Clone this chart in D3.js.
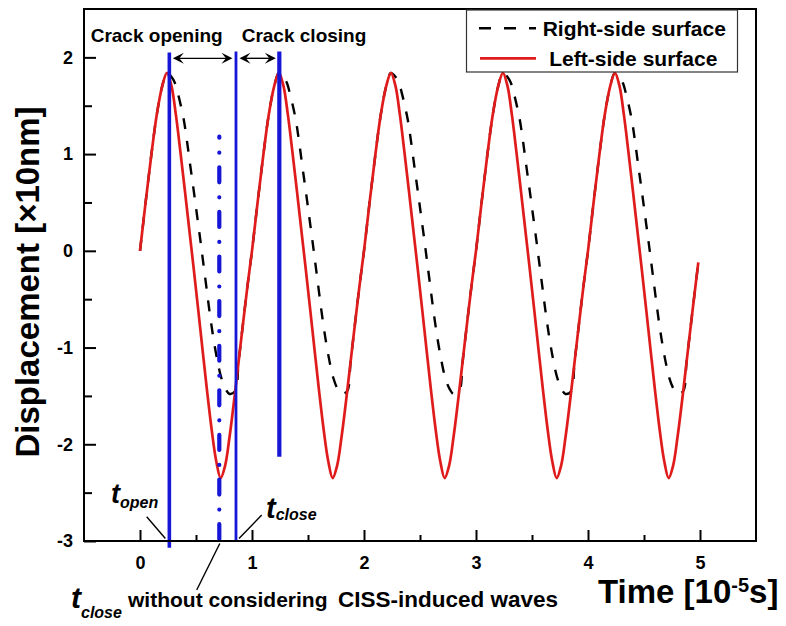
<!DOCTYPE html>
<html>
<head>
<meta charset="utf-8">
<script src="https://cdn.jsdelivr.net/npm/d3@7"></script>
<style>
  html, body { margin: 0; padding: 0; background: #fff; }
  svg { display: block; font-family: "Liberation Sans", Arial, Helvetica, sans-serif; font-weight: bold; }
</style>
</head>
<body>
<svg id="chart" width="786" height="626"></svg>
<script>
// ---------- data (time in 1e-5 s, displacement in 10 nm) ----------
const timeLeft = [
  0.00, 0.05, 0.10, 0.15, 0.20, 0.24, 0.28, 0.32, 0.36, 0.40, 0.44, 0.48, 0.52, 0.56, 0.60, 0.64, 0.68, 0.72, 0.76, 0.80, 0.84, 0.88, 0.92, 0.96,
  1.00, 1.05, 1.10, 1.15, 1.20, 1.24, 1.28, 1.32, 1.36, 1.40, 1.44, 1.48, 1.52, 1.56, 1.60, 1.64, 1.68, 1.72, 1.76, 1.80, 1.84, 1.88, 1.92, 1.96,
  2.00, 2.05, 2.10, 2.15, 2.20, 2.24, 2.28, 2.32, 2.36, 2.40, 2.44, 2.48, 2.52, 2.56, 2.60, 2.64, 2.68, 2.72, 2.76, 2.80, 2.84, 2.88, 2.92, 2.96,
  3.00, 3.05, 3.10, 3.15, 3.20, 3.24, 3.28, 3.32, 3.36, 3.40, 3.44, 3.48, 3.52, 3.56, 3.60, 3.64, 3.68, 3.72, 3.76, 3.80, 3.84, 3.88, 3.92, 3.96,
  4.00, 4.05, 4.10, 4.15, 4.20, 4.24, 4.28, 4.32, 4.36, 4.40, 4.44, 4.48, 4.52, 4.56, 4.60, 4.64, 4.68, 4.72, 4.76, 4.80, 4.84, 4.88, 4.92, 4.96,
  4.985
];
const leftSide = [
  0.00, 0.50, 0.98, 1.41, 1.71, 1.84, 1.71, 1.41, 1.03, 0.63, 0.22, -0.19, -0.61, -1.04, -1.46, -1.85, -2.17, -2.35, -2.22, -1.92, -1.55, -1.15, -0.75, -0.36,
  0.00, 0.50, 0.98, 1.41, 1.71, 1.84, 1.71, 1.41, 1.03, 0.63, 0.22, -0.19, -0.61, -1.04, -1.46, -1.85, -2.17, -2.35, -2.22, -1.92, -1.55, -1.15, -0.75, -0.36,
  0.00, 0.50, 0.98, 1.41, 1.71, 1.84, 1.71, 1.41, 1.03, 0.63, 0.22, -0.19, -0.61, -1.04, -1.46, -1.85, -2.17, -2.35, -2.22, -1.92, -1.55, -1.15, -0.75, -0.36,
  0.00, 0.50, 0.98, 1.41, 1.71, 1.84, 1.71, 1.41, 1.03, 0.63, 0.22, -0.19, -0.61, -1.04, -1.46, -1.85, -2.17, -2.35, -2.22, -1.92, -1.55, -1.15, -0.75, -0.36,
  0.00, 0.50, 0.98, 1.41, 1.71, 1.84, 1.71, 1.41, 1.03, 0.63, 0.22, -0.19, -0.61, -1.04, -1.46, -1.85, -2.17, -2.35, -2.22, -1.92, -1.55, -1.15, -0.75, -0.36,
  -0.12
];
const timeRight = [
  0.00, 0.05, 0.10, 0.15, 0.20, 0.24, 0.28, 0.31, 0.34, 0.39, 0.42, 0.45, 0.48, 0.51, 0.54, 0.56, 0.59, 0.62, 0.655, 0.69, 0.725, 0.765, 0.80, 0.85, 0.88, 0.92, 0.96,
  1.00, 1.05, 1.10, 1.15, 1.20, 1.24, 1.28, 1.31, 1.34, 1.39, 1.42, 1.45, 1.48, 1.51, 1.54, 1.56, 1.59, 1.62, 1.655, 1.69, 1.725, 1.765, 1.80, 1.85, 1.88, 1.92, 1.96,
  2.00, 2.05, 2.10, 2.15, 2.20, 2.24, 2.28, 2.31, 2.34, 2.39, 2.42, 2.45, 2.48, 2.51, 2.54, 2.56, 2.59, 2.62, 2.655, 2.69, 2.725, 2.765, 2.80, 2.85, 2.88, 2.92, 2.96,
  3.00, 3.05, 3.10, 3.15, 3.20, 3.24, 3.28, 3.31, 3.34, 3.39, 3.42, 3.45, 3.48, 3.51, 3.54, 3.56, 3.59, 3.62, 3.655, 3.69, 3.725, 3.765, 3.80, 3.85, 3.88, 3.92, 3.96,
  4.00, 4.05, 4.10, 4.15, 4.20, 4.24, 4.28, 4.31, 4.34, 4.39, 4.42, 4.45, 4.48, 4.51, 4.54, 4.56, 4.59, 4.62, 4.655, 4.69, 4.725, 4.765, 4.80, 4.85, 4.88, 4.92, 4.96,
  4.985
];
const rightSide = [
  0.00, 0.50, 0.98, 1.41, 1.71, 1.84, 1.80, 1.74, 1.62, 1.36, 1.13, 0.87, 0.62, 0.36, 0.10, -0.08, -0.35, -0.62, -0.90, -1.13, -1.31, -1.43, -1.48, -1.45, -1.15, -0.75, -0.36,
  0.00, 0.50, 0.98, 1.41, 1.71, 1.84, 1.80, 1.74, 1.62, 1.36, 1.13, 0.87, 0.62, 0.36, 0.10, -0.08, -0.35, -0.62, -0.90, -1.13, -1.31, -1.43, -1.48, -1.45, -1.15, -0.75, -0.36,
  0.00, 0.50, 0.98, 1.41, 1.71, 1.84, 1.80, 1.74, 1.62, 1.36, 1.13, 0.87, 0.62, 0.36, 0.10, -0.08, -0.35, -0.62, -0.90, -1.13, -1.31, -1.43, -1.48, -1.45, -1.15, -0.75, -0.36,
  0.00, 0.50, 0.98, 1.41, 1.71, 1.84, 1.80, 1.74, 1.62, 1.36, 1.13, 0.87, 0.62, 0.36, 0.10, -0.08, -0.35, -0.62, -0.90, -1.13, -1.31, -1.43, -1.48, -1.45, -1.15, -0.75, -0.36,
  0.00, 0.50, 0.98, 1.41, 1.71, 1.84, 1.80, 1.74, 1.62, 1.36, 1.13, 0.87, 0.62, 0.36, 0.10, -0.08, -0.35, -0.62, -0.90, -1.13, -1.31, -1.43, -1.48, -1.45, -1.15, -0.75, -0.36,
  -0.12
];

const xTicks = [0, 1, 2, 3, 4, 5];
const xMinorTicks = [0.5, 1.5, 2.5, 3.5, 4.5];
const yTicks = [-3, -2, -1, 0, 1, 2];
const yMinorTicks = [-2.5, -1.5, -0.5, 0.5, 1.5];

// vertical time markers: t_open, t_close (no CISS waves), t_close, next peak
const markerTimes = [0.262, 0.708, 0.857, 1.244];
const markerTop = [2.05, 1.18, 2.06, 2.06];
const markerBottom = [-3.07, -3.05, -3.0, -2.13];
const arrowLevel = 1.99;

const legendLabels = ["Right-side surface", "Left-side surface"];

// ---------- layout ----------
const W = 786, H = 626;
const RED = "#e01b1b", BLUE = "#1616d6";
const x = d3.scaleLinear().domain([-0.5, 5.5]).range([84, 756]);
const y = d3.scaleLinear().domain([-3, 2.5]).range([541, 9]);

const svg = d3.select("#chart");
svg.append("rect").attr("width", W).attr("height", H).attr("fill", "#fff");

const line = d3.line()
  .x(d => x(d[0]))
  .y(d => y(d[1]))
  .curve(d3.curveCatmullRom.alpha(0.5));

// right-side surface (dashed) underneath, left-side surface (solid red) above
svg.append("path")
  .datum(d3.zip(timeRight, rightSide))
  .attr("d", line)
  .attr("fill", "none")
  .attr("stroke", "#000")
  .attr("stroke-width", 2.4)
  .attr("stroke-dasharray", "11,12");

svg.append("path")
  .datum(d3.zip(timeLeft, leftSide))
  .attr("d", line)
  .attr("fill", "none")
  .attr("stroke", RED)
  .attr("stroke-width", 2.7);

// ---------- time markers ----------
const markerWidth = [3.6, 4.2, 2.8, 4.2];
markerTimes.forEach((t, i) => {
  const ln = svg.append("line")
    .attr("x1", x(t)).attr("x2", x(t))
    .attr("y1", y(markerTop[i])).attr("y2", y(markerBottom[i]))
    .attr("stroke", BLUE)
    .attr("stroke-width", markerWidth[i]);
  if (i === 1) {
    ln.attr("stroke-dasharray", "15,15,0.01,14.6")
      .attr("stroke-dashoffset", 14)
      .attr("stroke-linecap", "round");
  }
});

// double arrows between markers
function arrowHead(px, py, dir) {
  const L = 11, hw = 5.5, notch = 6.5;
  return `M${px},${py} L${px - dir * L},${py - hw} L${px - dir * notch},${py} L${px - dir * L},${py + hw} Z`;
}
function doubleArrow(t0, t1) {
  const x0 = x(t0) + 3.5, x1 = x(t1) - 3.5, yy = y(arrowLevel);
  svg.append("line").attr("x1", x0 + 4).attr("x2", x1 - 4)
    .attr("y1", yy).attr("y2", yy)
    .attr("stroke", "#000").attr("stroke-width", 1.4);
  svg.append("path").attr("d", arrowHead(x0, yy, -1)).attr("fill", "#000");
  svg.append("path").attr("d", arrowHead(x1, yy, 1)).attr("fill", "#000");
}
doubleArrow(markerTimes[0], markerTimes[2]);
doubleArrow(markerTimes[2], markerTimes[3]);

svg.append("text").attr("x", 90.7).attr("y", 41.8)
  .attr("font-size", 19).text("Crack opening");
svg.append("text").attr("x", 241.7).attr("y", 41.8)
  .attr("font-size", 19).text("Crack closing");

// ---------- axes ----------
const gx = svg.append("g").attr("transform", `translate(0,${y(-3)})`);
gx.call(d3.axisBottom(x).tickValues(xTicks).tickFormat(d3.format("d"))
  .tickSizeInner(-11).tickSizeOuter(0).tickPadding(15));
const gxm = svg.append("g").attr("transform", `translate(0,${y(-3)})`);
gxm.call(d3.axisBottom(x).tickValues(xMinorTicks).tickFormat("")
  .tickSizeInner(-6).tickSizeOuter(0));

const gy = svg.append("g").attr("transform", `translate(${x(-0.5)},0)`);
gy.call(d3.axisLeft(y).tickValues(yTicks).tickFormat(d => String(d))
  .tickSizeInner(-12).tickSizeOuter(0).tickPadding(11));
const gym = svg.append("g").attr("transform", `translate(${x(-0.5)},0)`);
gym.call(d3.axisLeft(y).tickValues(yMinorTicks).tickFormat("")
  .tickSizeInner(-8).tickSizeOuter(0));

svg.selectAll(".domain").remove();
svg.selectAll(".tick line").attr("stroke", "#000").attr("stroke-width", 2);
svg.selectAll(".tick text")
  .attr("font-family", "Liberation Sans, Arial, sans-serif")
  .attr("font-weight", "bold")
  .attr("font-size", 18)
  .attr("fill", "#000");

// frame
svg.append("rect")
  .attr("x", x(-0.5)).attr("y", y(2.5))
  .attr("width", x(5.5) - x(-0.5)).attr("height", y(-3) - y(2.5))
  .attr("fill", "none").attr("stroke", "#000").attr("stroke-width", 2);

// axis titles
svg.append("text")
  .attr("transform", "translate(39,282) rotate(-90)")
  .attr("text-anchor", "middle")
  .attr("font-size", 33)
  .text("Displacement [\u00d710nm]");

const xt = svg.append("text").attr("x", 598).attr("y", 603).attr("font-size", 33);
xt.append("tspan").text("Time [10");
xt.append("tspan").attr("font-size", 20).attr("dy", -11).text("-5");
xt.append("tspan").attr("dy", 11).text("s]");

// ---------- legend ----------
const lg = svg.append("g");
lg.append("rect").attr("x", 466.5).attr("y", 10).attr("width", 271).attr("height", 62)
  .attr("fill", "#fff").attr("stroke", "#333").attr("stroke-width", 1.2);
lg.append("line").attr("x1", 479).attr("x2", 536).attr("y1", 28.3).attr("y2", 28.3)
  .attr("stroke", "#000").attr("stroke-width", 2.4).attr("stroke-dasharray", "12,13");
lg.append("text").attr("x", 542.7).attr("y", 35.5).attr("font-size", 21).text(legendLabels[0]);
lg.append("line").attr("x1", 480).attr("x2", 536).attr("y1", 58.3).attr("y2", 58.3)
  .attr("stroke", RED).attr("stroke-width", 2.7);
lg.append("text").attr("x", 549.3).attr("y", 66).attr("font-size", 21).text(legendLabels[1]);

// ---------- marker annotations ----------
const ann = svg.append("g").attr("fill", "#000");
const baseY = y(-3);

// t_open
const tOpen = ann.append("text").attr("x", 111).attr("y", 503).attr("font-style", "italic");
tOpen.append("tspan").attr("font-size", 27).text("t");
tOpen.append("tspan").attr("font-size", 16).attr("dy", 5).text("open");
ann.append("line")
  .attr("x1", 146.7).attr("y1", 516.7)
  .attr("x2", x(markerTimes[0]) - 4).attr("y2", baseY - 2.5)
  .attr("stroke", "#000").attr("stroke-width", 1.4);

// t_close
const tClose = ann.append("text").attr("x", 266).attr("y", 518).attr("font-style", "italic");
tClose.append("tspan").attr("font-size", 29).text("t");
tClose.append("tspan").attr("font-size", 16).attr("dy", 2).text("close");
ann.append("line")
  .attr("x1", x(markerTimes[2]) + 3).attr("y1", baseY - 2.5)
  .attr("x2", 261.7).attr("y2", 515)
  .attr("stroke", "#000").attr("stroke-width", 1.4);

// t_close without considering CISS-induced waves
ann.append("line")
  .attr("x1", x(markerTimes[1]) + 0.5).attr("y1", baseY + 2.5)
  .attr("x2", 196.7).attr("y2", 590)
  .attr("stroke", "#000").attr("stroke-width", 1.4);
const tNo = ann.append("text").attr("x", 71).attr("y", 608).attr("font-style", "italic");
tNo.append("tspan").attr("font-size", 30).text("t");
tNo.append("tspan").attr("font-size", 16).attr("dy", 10).text("close");
ann.append("text").attr("x", 128).attr("y", 607).attr("font-size", 21).text("without considering");
ann.append("text").attr("x", 558).attr("y", 607).attr("font-size", 22.5)
  .attr("text-anchor", "end").text("CISS-induced waves");
</script>
</body>
</html>
